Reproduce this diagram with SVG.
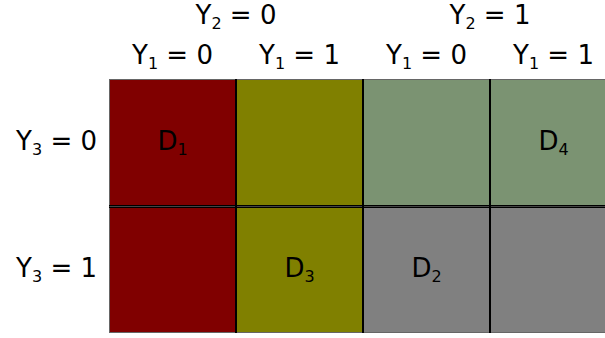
<svg xmlns="http://www.w3.org/2000/svg" width="605" height="338" viewBox="0 0 605 338">
<style>
  text { font-family: "DejaVu Sans", sans-serif; font-size: 26px; fill: #000; }
  .c { text-anchor: middle; }
  .r { text-anchor: end; }
  .sub { font-size: 16px; }
  .red { fill: #800000; }
  .olive { fill: #808000; }
  .green { fill: #7b9372; }
  .gray { fill: #808080; }
  .ln { stroke: #000; fill: none; }
</style>
<rect width="605" height="338" fill="#fff"/>
<g id="cell-r0c0"><rect class="red" x="109" y="79" width="127" height="127"/><text class="c" x="172.5" y="150">D<tspan class="sub" dy="5">1</tspan></text></g>
<g id="cell-r0c1"><rect class="olive" x="236" y="79" width="127" height="127"/></g>
<g id="cell-r0c2"><rect class="green" x="363" y="79" width="127" height="127"/></g>
<g id="cell-r0c3"><rect class="green" x="490" y="79" width="127" height="127"/><text class="c" x="553.5" y="150">D<tspan class="sub" dy="5">4</tspan></text></g>
<g id="cell-r1c0"><rect class="red" x="109" y="206" width="127" height="127"/></g>
<g id="cell-r1c1"><rect class="olive" x="236" y="206" width="127" height="127"/><text class="c" x="299.5" y="277">D<tspan class="sub" dy="5">3</tspan></text></g>
<g id="cell-r1c2"><rect class="gray" x="363" y="206" width="127" height="127"/><text class="c" x="426.5" y="277">D<tspan class="sub" dy="5">2</tspan></text></g>
<g id="cell-r1c3"><rect class="gray" x="490" y="206" width="127" height="127"/></g>
<g id="connectors">
  <rect x="109.5" y="79.5" width="520" height="253" fill="none" stroke="#666" stroke-width="1"/>
  <line class="ln" x1="109" y1="205.5" x2="605" y2="205.5" stroke-width="1"/>
  <line class="ln" x1="109" y1="207.5" x2="605" y2="207.5" stroke-width="1"/>
  <line x1="109" y1="206.5" x2="605" y2="206.5" stroke="#444" stroke-width="1"/>
  <line class="ln" x1="236" y1="79" x2="236" y2="333" stroke-width="2"/>
  <line class="ln" x1="363" y1="79" x2="363" y2="333" stroke-width="2"/>
  <line class="ln" x1="490" y1="79" x2="490" y2="333" stroke-width="2"/>
</g>
<g id="headers">
  <text class="c" x="236" y="24">Y<tspan class="sub" dy="5">2</tspan><tspan dy="-5"> = 0</tspan></text>
  <text class="c" x="490" y="24">Y<tspan class="sub" dy="5">2</tspan><tspan dy="-5"> = 1</tspan></text>
  <text class="c" x="172.5" y="64">Y<tspan class="sub" dy="5">1</tspan><tspan dy="-5"> = 0</tspan></text>
  <text class="c" x="299.5" y="64">Y<tspan class="sub" dy="5">1</tspan><tspan dy="-5"> = 1</tspan></text>
  <text class="c" x="426.5" y="64">Y<tspan class="sub" dy="5">1</tspan><tspan dy="-5"> = 0</tspan></text>
  <text class="c" x="553.5" y="64">Y<tspan class="sub" dy="5">1</tspan><tspan dy="-5"> = 1</tspan></text>
  <text class="r" x="97" y="150">Y<tspan class="sub" dy="5">3</tspan><tspan dy="-5"> = 0</tspan></text>
  <text class="r" x="97" y="277">Y<tspan class="sub" dy="5">3</tspan><tspan dy="-5"> = 1</tspan></text>
</g>
</svg>
